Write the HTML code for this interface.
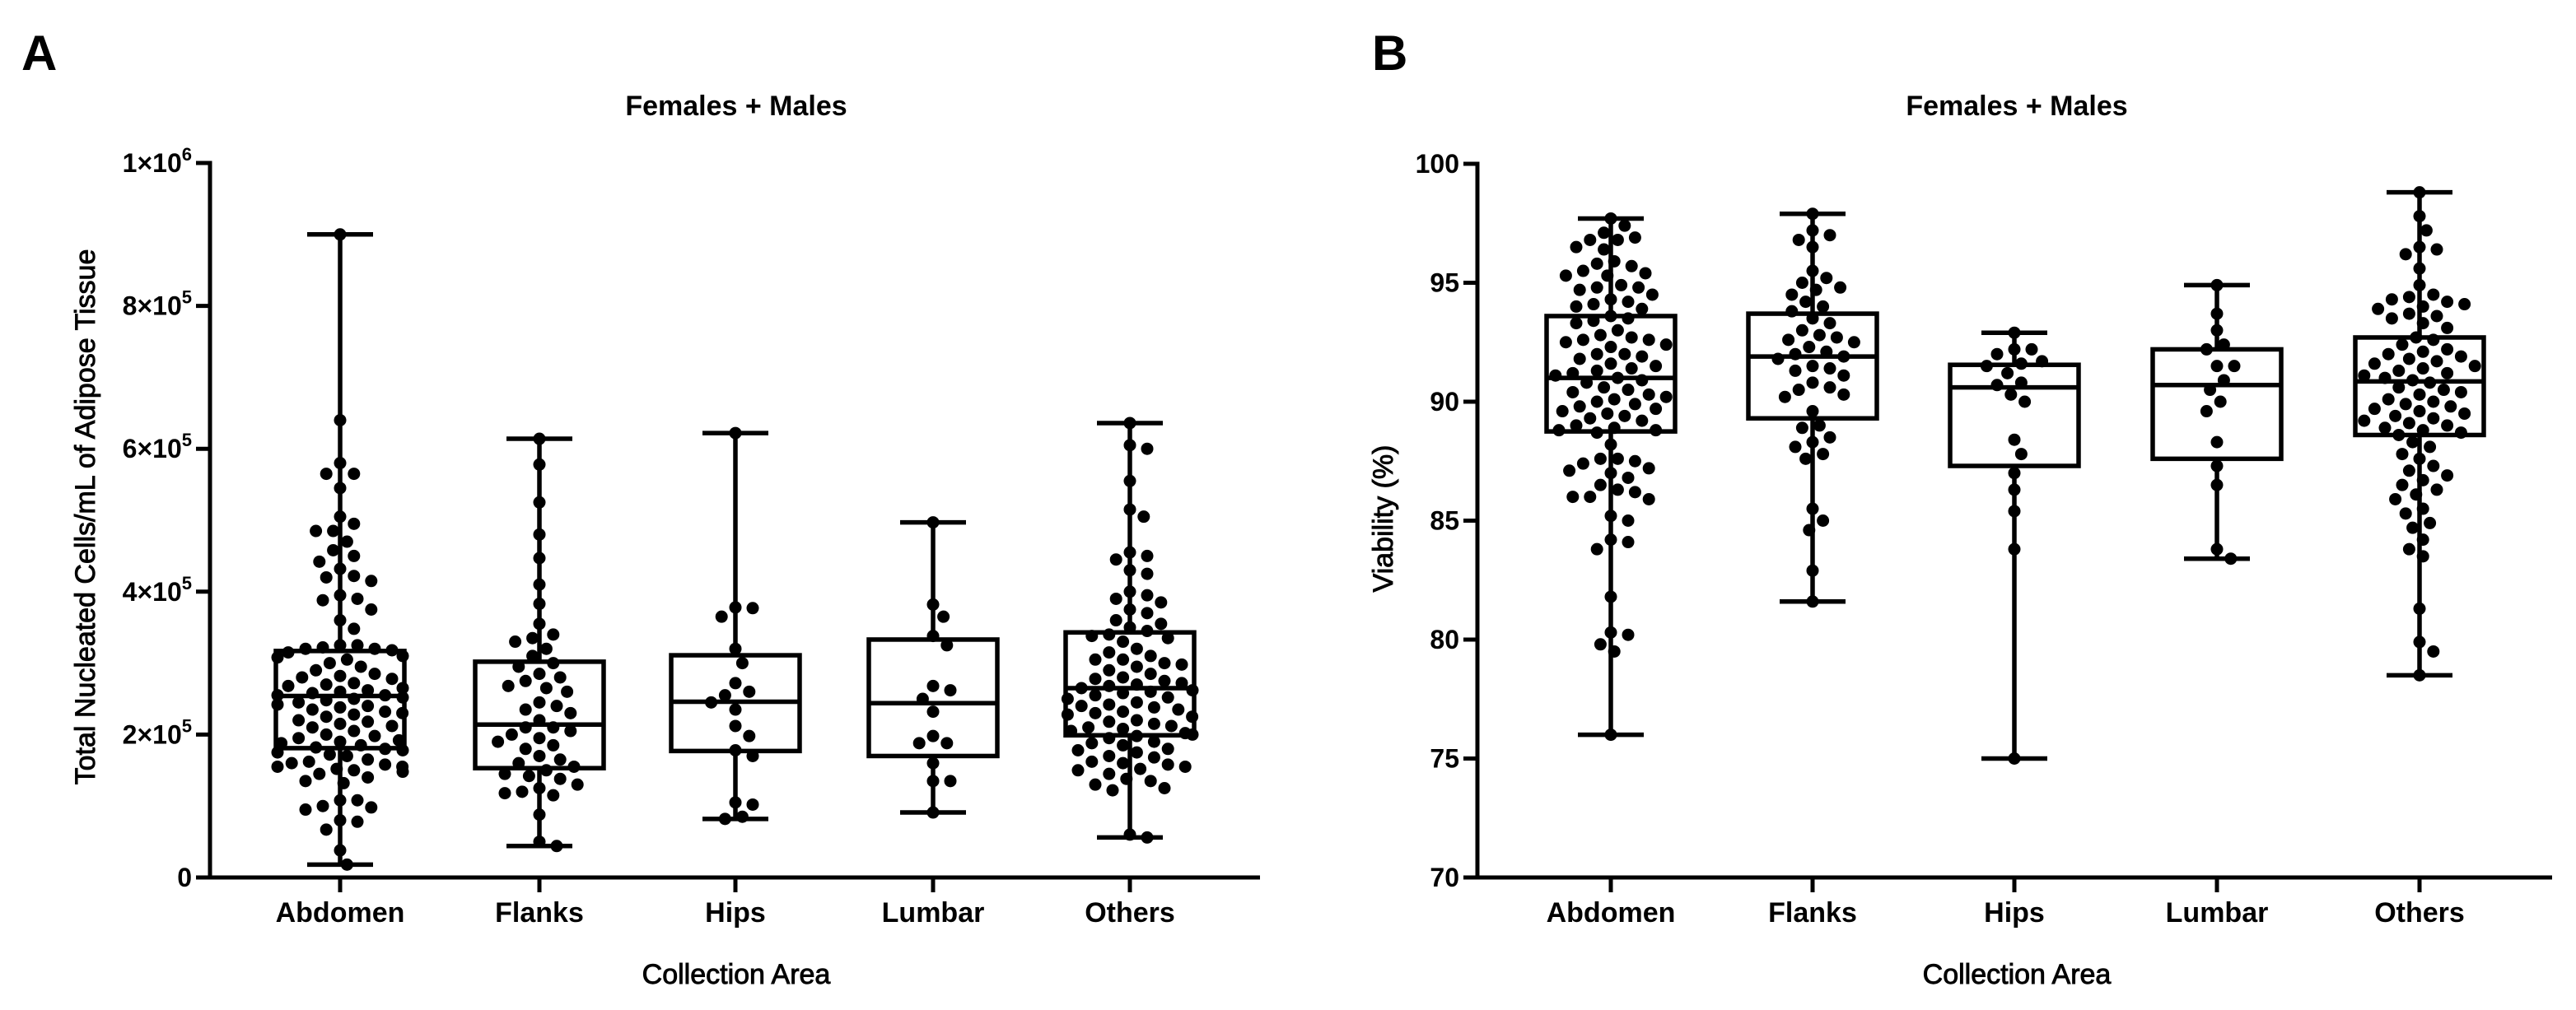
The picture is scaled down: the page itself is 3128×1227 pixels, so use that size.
<!DOCTYPE html>
<html><head><meta charset="utf-8"><style>
html,body{margin:0;padding:0;background:#fff}
svg{display:block}
text{font-family:"Liberation Sans",Arial,sans-serif;fill:#000}
.semi{stroke:#000;stroke-width:0.9}
</style></head><body>
<svg id="fig" width="3128" height="1227" viewBox="0 0 3128 1227" xmlns="http://www.w3.org/2000/svg">
<text x="26" y="85" font-size="60" font-weight="bold">A</text>
<text x="1666" y="85" font-size="60" font-weight="bold">B</text>
<text x="894" y="140" font-size="34" font-weight="bold" text-anchor="middle">Females + Males</text>
<text x="2449" y="140" font-size="34" font-weight="bold" text-anchor="middle">Females + Males</text>
<text class="semi" transform="translate(115,628) rotate(-90)" font-size="34" text-anchor="middle">Total Nucleated Cells/mL of Adipose Tissue</text>
<text class="semi" transform="translate(1691,630) rotate(-90)" font-size="34" text-anchor="middle">Viability (%)</text>
<text class="semi" x="894" y="1195" font-size="34" text-anchor="middle">Collection Area</text>
<text class="semi" x="2449" y="1195" font-size="34" text-anchor="middle">Collection Area</text>
<g id="pa"></g>
<g id="pb"></g>
</svg>
<script>
const categories = ["Abdomen","Flanks","Hips","Lumbar","Others"];
// Panel A values in units of 1e5 cells/mL
const cellsAbdomen = [9.0,6.4,5.8,5.65,5.65,5.45,5.05,4.95,4.85,4.85,4.7,4.58,4.5,4.42,4.32,4.22,4.2,4.15,3.95,3.9,3.88,3.75,3.6,3.48,3.25,3.25,3.22,3.2,3.2,3.18,3.15,3.1,3.08,3.05,3.0,2.95,2.9,2.85,2.82,2.8,2.78,2.72,2.7,2.68,2.65,2.62,2.6,2.58,2.55,2.55,2.52,2.5,2.48,2.45,2.42,2.4,2.38,2.35,2.32,2.3,2.28,2.25,2.2,2.18,2.15,2.12,2.1,2.05,2.0,1.98,1.95,1.92,1.9,1.88,1.85,1.82,1.8,1.78,1.75,1.72,1.7,1.65,1.62,1.6,1.58,1.55,1.55,1.52,1.5,1.48,1.45,1.4,1.35,1.32,1.08,1.08,1.0,0.98,0.95,0.8,0.78,0.67,0.38,0.18];
const cellsFlanks = [6.14,5.78,5.25,4.8,4.47,4.1,3.83,3.55,3.4,3.35,3.3,3.2,3.1,3.0,2.95,2.85,2.8,2.75,2.68,2.65,2.6,2.45,2.4,2.35,2.3,2.2,2.1,2.1,2.05,2.0,1.95,1.9,1.85,1.8,1.7,1.65,1.6,1.55,1.5,1.45,1.42,1.38,1.3,1.25,1.2,1.18,1.15,0.88,0.5,0.44];
const cellsHips = [6.22,3.78,3.77,3.65,3.2,3.0,2.72,2.6,2.55,2.45,2.35,2.12,1.98,1.78,1.7,1.05,1.02,0.85,0.82];
const cellsLumbar = [4.97,3.82,3.65,3.38,3.25,2.68,2.62,2.5,2.32,1.98,1.88,1.88,1.6,1.35,1.35,0.91];
const cellsOthers = [6.36,6.05,6.0,5.55,5.15,5.05,4.55,4.5,4.45,4.3,4.25,4.0,3.95,3.9,3.85,3.75,3.7,3.6,3.55,3.5,3.45,3.4,3.38,3.35,3.3,3.2,3.15,3.1,3.05,3.05,3.0,2.98,2.95,2.9,2.85,2.8,2.78,2.75,2.72,2.7,2.68,2.65,2.62,2.6,2.58,2.55,2.52,2.5,2.45,2.42,2.4,2.38,2.35,2.32,2.3,2.28,2.25,2.2,2.18,2.15,2.12,2.1,2.08,2.05,2.02,2.0,1.98,1.95,1.9,1.88,1.85,1.8,1.78,1.75,1.7,1.68,1.62,1.6,1.58,1.55,1.52,1.5,1.45,1.38,1.35,1.3,1.25,1.22,0.6,0.56];
// box stats [min,q1,median,q3,max] in 1e5 units
const cellsBoxes = [[0.18,1.81,2.54,3.17,9.0],[0.44,1.53,2.14,3.02,6.14],[0.82,1.77,2.46,3.11,6.22],[0.91,1.7,2.44,3.33,4.97],[0.56,1.99,2.65,3.43,6.36]];
const cellsTicks = [0,2,4,6,8,10];
const cellsTickLabels = ["0","2×10|5","4×10|5","6×10|5","8×10|5","1×10|6"];

// Panel B viability %
const viaAbdomen = [97.7,97.4,97.1,96.9,96.8,96.8,96.5,96.4,95.9,95.8,95.7,95.5,95.4,95.3,95.3,94.9,94.8,94.8,94.7,94.5,94.3,94.2,94.1,94.0,93.9,93.6,93.5,93.4,93.3,93.0,92.8,92.7,92.6,92.6,92.5,92.4,92.3,92.0,92.0,91.9,91.8,91.6,91.5,91.4,91.3,91.2,91.1,91.0,90.9,90.8,90.6,90.5,90.4,90.3,90.2,90.1,90.0,89.9,89.8,89.7,89.6,89.5,89.4,89.3,89.2,89.0,88.9,88.8,88.8,88.7,88.2,87.6,87.6,87.5,87.4,87.2,87.1,87.0,86.8,86.5,86.3,86.2,86.0,86.0,85.9,85.2,85.0,84.2,84.1,83.8,81.8,80.3,80.2,79.8,79.5,76.0];
const viaFlanks = [97.9,97.2,97.0,96.8,96.5,95.5,95.2,95.0,94.8,94.7,94.5,94.2,94.0,93.8,93.5,93.3,93.0,92.8,92.7,92.6,92.5,92.3,92.1,92.0,91.9,91.8,91.5,91.4,91.3,91.1,90.8,90.6,90.5,90.3,90.2,89.6,89.0,88.9,88.5,88.3,88.1,87.8,87.6,85.5,85.0,84.6,82.9,81.6];
const viaHips = [92.9,92.2,92.2,92.0,91.7,91.6,91.5,91.2,90.8,90.7,90.3,90.0,88.4,87.8,87.0,86.3,85.4,83.8,75.0];
const viaLumbar = [94.9,93.7,93.0,92.4,92.2,91.5,91.5,90.9,90.5,90.0,89.6,88.3,87.3,86.5,83.8,83.4];
const viaOthers = [98.8,97.8,97.2,96.5,96.4,96.2,95.6,94.9,94.5,94.4,94.3,94.2,94.1,94.0,93.9,93.7,93.6,93.5,93.3,93.1,92.7,92.6,92.4,92.2,92.1,92.0,91.9,91.8,91.7,91.6,91.5,91.4,91.3,91.2,91.1,91.0,90.9,90.8,90.6,90.5,90.4,90.3,90.1,90.0,89.9,89.8,89.7,89.6,89.5,89.4,89.3,89.2,89.1,89.0,88.9,88.8,88.7,88.6,88.3,88.1,87.8,87.6,87.3,87.1,86.9,86.7,86.5,86.3,86.1,85.9,85.5,85.3,84.9,84.7,84.2,83.8,83.5,81.3,79.9,79.5,78.5];
const viaBoxes = [[76.0,88.75,91.0,93.6,97.7],[81.6,89.3,91.9,93.7,97.9],[75.0,87.3,90.6,91.55,92.9],[83.4,87.6,90.7,92.2,94.9],[78.5,88.6,90.85,92.7,98.8]];
const viaTicks = [70,75,80,85,90,95,100];

const NS = "http://www.w3.org/2000/svg";
function mk(parent, tag, attrs){const e=document.createElementNS(NS,tag);for(const k in attrs)e.setAttribute(k,attrs[k]);parent.appendChild(e);return e;}

function swarm(vals, yf, r){
  const placed=[]; const out=[];
  const sorted=vals.map((v,i)=>({v,i})).sort((a,b)=>b.v-a.v);
  const R=r*1.35;
  for(const p of sorted){
    const y=yf(p.v); let best=0;
    const cands=[0];
    for(let k=1;k<40;k++){cands.push(k*r*0.6);cands.push(-k*r*0.6);}
    for(const c of cands){
      let ok=true;
      for(const q of placed){const dx=q.x-c,dy=q.y-y;if(dx*dx+dy*dy<(2*R)*(2*R)){ok=false;break;}}
      if(ok){best=c;break;}
    }
    best=Math.max(-76,Math.min(76,best));
    placed.push({x:best,y}); out.push({x:best,y});
  }
  return out;
}

function panel(g, opt){
  const yf=v=>opt.y0+(v-opt.vmin)/(opt.vmax-opt.vmin)*(opt.y1-opt.y0);
  const xf=i=>opt.cx[i];
  const ya=mk(g,"line",{x1:opt.ax,y1:opt.y1-2.5,x2:opt.ax,y2:opt.y0+2.5,stroke:"#000","stroke-width":5});
  
  
  const xa=mk(g,"line",{x1:opt.ax-17,y1:opt.y0,x2:opt.xend,y2:opt.y0,stroke:"#000","stroke-width":5});
  
  
  opt.ticks.forEach((t,k)=>{
    const y=yf(t);
    const tl=mk(g,"line",{x1:opt.ax-17,y1:y,x2:opt.ax,y2:y,stroke:"#000","stroke-width":5});
    
    
    const lab=opt.tickLabels?opt.tickLabels[k]:String(t);
    const tx=mk(g,"text",{x:opt.ax-22,y:y+11,"font-size":32,"font-weight":"bold","text-anchor":"end"});
    
    
    const parts=lab.split("|");
    const s1=mk(tx,"tspan",{}); s1.textContent=parts[0];
    if(parts[1]){const s2=mk(tx,"tspan",{dy:-14,"font-size":22}); s2.textContent=parts[1];}
  });
  categories.forEach((c,i)=>{
    const x=xf(i);
    const tk=mk(g,"line",{x1:x,y1:opt.y0,x2:x,y2:opt.y0+18,stroke:"#000","stroke-width":5});
    
    
    const t=mk(g,"text",{x:x,y:1120,"font-size":34,"font-weight":"bold","text-anchor":"middle"});
    t.textContent=c;
    
    
    const b=opt.boxes[i];
    const bg=mk(g,"g",{});
    
    
    const hw=78, cw=40, sw=5.5;
    mk(bg,"line",{x1:x,y1:yf(b[0]),x2:x,y2:yf(b[1]),stroke:"#000","stroke-width":sw});
    mk(bg,"line",{x1:x,y1:yf(b[3]),x2:x,y2:yf(b[4]),stroke:"#000","stroke-width":sw});
    mk(bg,"line",{x1:x-cw,y1:yf(b[0]),x2:x+cw,y2:yf(b[0]),stroke:"#000","stroke-width":sw});
    mk(bg,"line",{x1:x-cw,y1:yf(b[4]),x2:x+cw,y2:yf(b[4]),stroke:"#000","stroke-width":sw});
    mk(bg,"rect",{x:x-hw,y:yf(b[3]),width:2*hw,height:yf(b[1])-yf(b[3]),fill:"none",stroke:"#000","stroke-width":sw});
    mk(bg,"line",{x1:x-hw,y1:yf(b[2]),x2:x+hw,y2:yf(b[2]),stroke:"#000","stroke-width":sw});
    const pts=swarm(opt.series[i],yf,7);
    const pg=mk(g,"g",{});
    
    
    pts.forEach(p=>{
      const d=mk(pg,"circle",{cx:x+p.x,cy:p.y,r:7.5,fill:"#000"});
      
      
    });
  });
}
panel(document.getElementById("pa"),{ax:255,xend:1530,y0:1066,y1:198,vmin:0,vmax:10,cx:[413,655,893,1133,1372],
  ticks:cellsTicks,tickLabels:cellsTickLabels,boxes:cellsBoxes,series:[cellsAbdomen,cellsFlanks,cellsHips,cellsLumbar,cellsOthers]});
panel(document.getElementById("pb"),{ax:1794,xend:3099,y0:1066,y1:199,vmin:70,vmax:100,cx:[1956,2201,2446,2692,2938],
  ticks:viaTicks,boxes:viaBoxes,series:[viaAbdomen,viaFlanks,viaHips,viaLumbar,viaOthers]});
</script>
</body></html>
